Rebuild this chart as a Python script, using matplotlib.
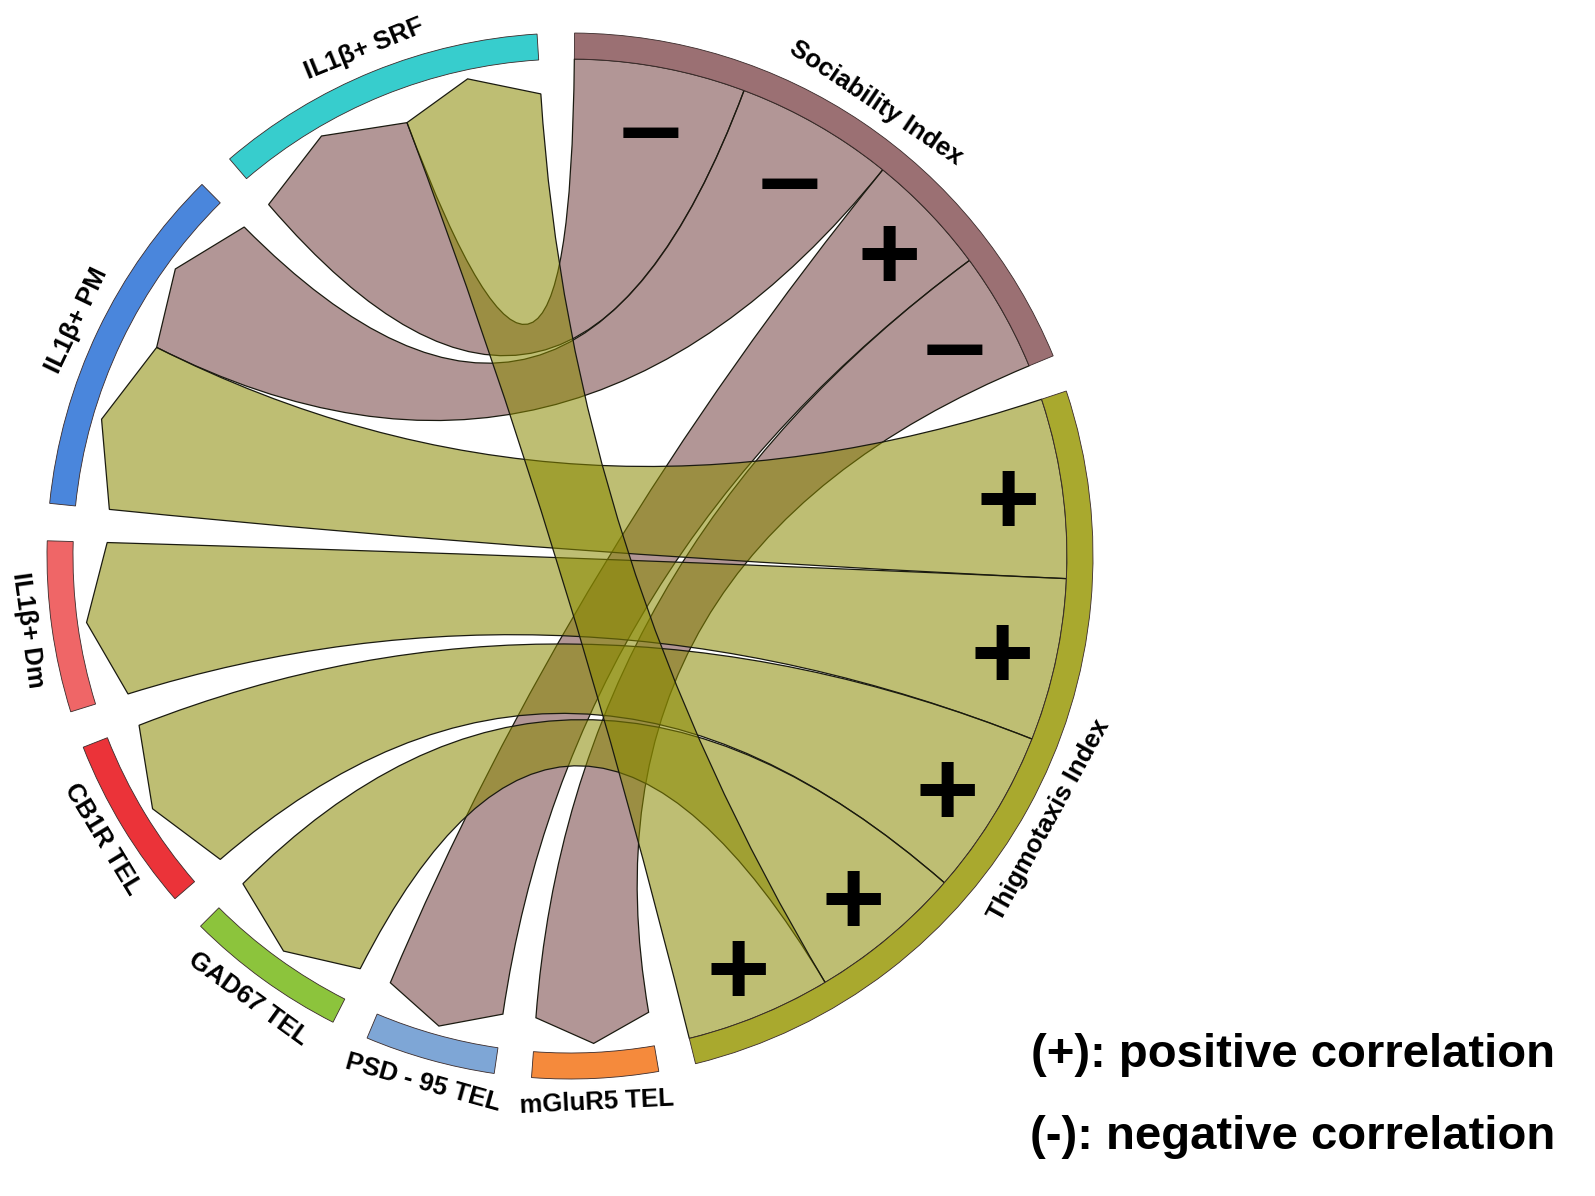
import numpy as np
import matplotlib
matplotlib.use("Agg")
import matplotlib.pyplot as plt
from matplotlib.path import Path
from matplotlib.patches import PathPatch, Wedge

plt.rcParams["font.family"] = ["Liberation Sans", "DejaVu Sans"]

# nodes, clockwise from the top
nodes = ["Sociability Index", "Thigmotaxis Index", "mGluR5 TEL", "PSD - 95 TEL",
         "GAD67 TEL", "CB1R TEL", "IL1β+ Dm", "IL1β+ PM", "IL1β+ SRF"]
node_colors = ["#9b7073", "#a9a92e", "#f58a3c", "#7ea6d6", "#8cc43c",
               "#eb3339", "#ef6667", "#4a86dc", "#37cdcd"]

# links: behavioural index -> variable, width (chord weight), sign of correlation
link_src = ["Sociability Index"] * 4 + ["Thigmotaxis Index"] * 5
link_dst = ["IL1β+ SRF", "IL1β+ PM", "PSD - 95 TEL", "mGluR5 TEL",
            "IL1β+ PM", "IL1β+ Dm", "CB1R TEL", "GAD67 TEL", "IL1β+ SRF"]
link_val = [20, 18.5, 14.5, 14, 21, 19, 19.5, 18, 17]
link_sign = ["-", "-", "+", "-", "+", "+", "+", "+", "+"]

# ribbon colours by source
ribbon_col = {"Sociability Index": (115/255, 65/255, 65/255, 0.55),
              "Thigmotaxis Index": (137/255, 137/255, 0, 0.55)}
# clockwise order of link ends where it is not the link order
end_order = {"IL1β+ PM": [4, 1]}

R_OUT, R_IN = 523, 497      # node band
R_END, R_TIP = 463, 488     # pointed ribbon ends
START = 89.5


def pt(a, r):
    t = np.deg2rad(a)
    return (r * np.cos(t), r * np.sin(t))


# ---- layout ----
node_w = {n: 0.0 for n in nodes}
for s, d, v in zip(link_src, link_dst, link_val):
    node_w[s] += v
    node_w[d] += v
gap = (360 - sum(node_w.values())) / len(nodes)
node_hi = {}
cur = START
for n in nodes:
    node_hi[n] = cur
    cur -= node_w[n] + gap

ends = {}   # (link, node) -> (lo, hi)
for n in nodes:
    order = end_order.get(n, [i for i in range(len(link_val))
                              if link_src[i] == n or link_dst[i] == n])
    c = node_hi[n]
    for i in order:
        ends[(i, n)] = (c - link_val[i], c)
        c -= link_val[i]


def end_pts(lo, hi, flat):
    if flat:
        return [pt(a, R_IN) for a in np.linspace(lo, hi, 40)]
    return [pt(lo, R_END), pt((lo + hi) / 2, R_TIP), pt(hi, R_END)]


fig = plt.figure(figsize=(15.95, 11.96), dpi=100)
ax = fig.add_axes([0, 0, 1, 1])
ax.set_xlim(-570, 1025)
ax.set_ylim(-640, 556)
ax.axis("off")

# ribbons
for src in ["Sociability Index", "Thigmotaxis Index"]:
    for i in range(len(link_val)):
        if link_src[i] != src:
            continue
        lo1, hi1 = ends[(i, src)]
        lo2, hi2 = ends[(i, link_dst[i])]
        p1 = end_pts(lo1, hi1, True)
        p2 = end_pts(lo2, hi2, False)
        verts = list(p1) + [(0, 0), p2[0]] + list(p2[1:]) + [(0, 0), p1[0], p1[0]]
        codes = ([Path.MOVETO] + [Path.LINETO] * (len(p1) - 1) + [Path.CURVE3] * 2
                 + [Path.LINETO] * (len(p2) - 1) + [Path.CURVE3] * 2 + [Path.CLOSEPOLY])
        ax.add_patch(PathPatch(Path(verts, codes), facecolor=ribbon_col[src],
                               edgecolor="#1a1a10", lw=0.9, zorder=2))
        # sign marker inside the index end
        m = (lo1 + hi1) / 2
        x, y = pt(m, 442)
        if link_sign[i] == "+":
            ax.text(x, y, "+", fontsize=78, fontweight="bold", ha="center",
                    va="center_baseline", color="black", zorder=5)
        else:
            ax.text(x, y, "–", fontsize=80, fontweight="bold", ha="center",
                    va="center_baseline", color="black", zorder=5)

# node bands and labels
for n, col in zip(nodes, node_colors):
    hi = node_hi[n]
    lo = hi - node_w[n]
    ax.add_patch(Wedge((0, 0), R_OUT, lo, hi, width=R_OUT - R_IN, facecolor=col,
                       edgecolor="#3a2a2a", lw=0.6, zorder=3))
    mid = (lo + hi) / 2
    x, y = pt(mid, 547)
    m = (mid + 180) % 360 - 180
    rot = m - 90 if m > 0 else m + 90
    ax.text(x, y, n, fontsize=18.5, fontweight="bold", rotation=rot,
            rotation_mode="anchor", ha="center", va="center", color="black", zorder=6)

# key
ax.text(985, -499, "(+): positive correlation", fontsize=34, fontweight="bold",
        ha="right", va="center")
ax.text(985, -581, "(-): negative correlation", fontsize=34, fontweight="bold",
        ha="right", va="center")

fig.savefig("out.png", dpi=100)
